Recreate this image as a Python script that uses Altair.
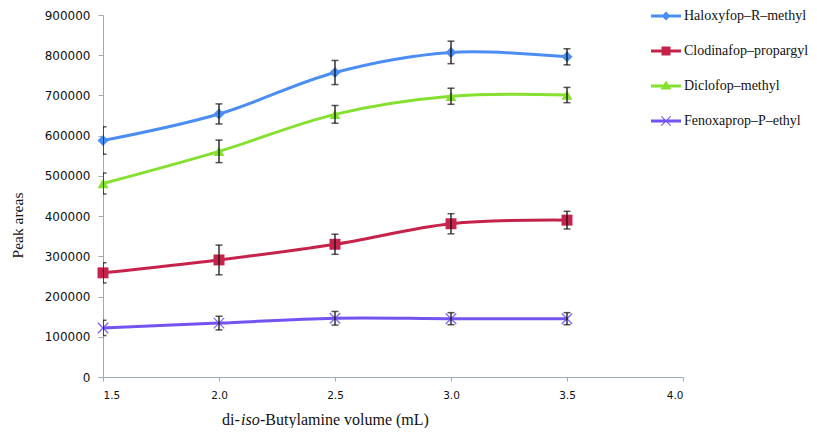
import altair as alt
import pandas as pd

volumes = [1.5, 2.0, 2.5, 3.0, 3.5]
series_names = ["Haloxyfop–R–methyl", "Clodinafop–propargyl", "Diclofop–methyl", "Fenoxaprop–P–ethyl"]
series_colors = ["#4b8df0", "#c5234b", "#86e030", "#7552f2"]

haloxyfop = [588000, 654000, 757000, 807000, 796000]
haloxyfop_err = [34000, 25000, 30000, 28000, 20000]
clodinafop = [259000, 291000, 330000, 381000, 390000]
clodinafop_err = [25000, 37000, 25000, 25000, 22000]
diclofop = [481000, 561000, 653000, 698000, 701000]
diclofop_err = [26000, 28000, 22000, 20000, 19000]
fenoxaprop = [122000, 134000, 146000, 145000, 145000]
fenoxaprop_err = [19000, 17000, 17000, 15000, 15000]

x_ticks = [1.5, 2.0, 2.5, 3.0, 3.5, 4.0]
y_ticks = [0, 100000, 200000, 300000, 400000, 500000, 600000, 700000, 800000, 900000]

rows = []
for name, vals, errs in zip(series_names,
                            [haloxyfop, clodinafop, diclofop, fenoxaprop],
                            [haloxyfop_err, clodinafop_err, diclofop_err, fenoxaprop_err]):
    for v, y, e in zip(volumes, vals, errs):
        rows.append({"series": name, "volume": v, "value": y, "lo": y - e, "hi": y + e})
df = pd.DataFrame(rows)

color_scale = alt.Scale(domain=series_names, range=series_colors)

X = alt.X("volume:Q",
          scale=alt.Scale(domain=[1.5, 4.0], nice=False, zero=False),
          axis=alt.Axis(values=x_ticks, format=".1f", title=None, grid=False,
                        domainColor="#9aabbe", tickColor="#9aabbe", tickSize=4,
                        labelFont="DejaVu Sans", labelFontSize=10.5, labelColor="#111",
                        labelPadding=9))
Y = alt.Y("value:Q",
          scale=alt.Scale(domain=[0, 900000], nice=False, zero=True),
          axis=alt.Axis(values=y_ticks, format="d", title="Peak areas", grid=False,
                        domainColor="#9aabbe", tickColor="#9aabbe", tickSize=5,
                        labelFont="DejaVu Sans", labelFontSize=12, labelColor="#111",
                        labelPadding=8,
                        titleFont="Liberation Serif", titleFontSize=15.5, titleFontWeight="normal",
                        titleColor="#111", titleX=-86, titleY=210, titleAngle=270,
                        titleAlign="center", titleBaseline="middle"))

color_nolegend = alt.Color("series:N", scale=color_scale, legend=None)

lines = alt.Chart(df).mark_line(strokeWidth=3, interpolate="cardinal").encode(
    x=X, y=Y, color=color_nolegend, detail="series:N")

filled_pts = alt.Chart(df).transform_filter(
    alt.datum.series != series_names[3]
).mark_point(filled=True, opacity=1, size=120).encode(
    x=X, y=Y, color=color_nolegend,
    shape=alt.Shape("series:N",
                    scale=alt.Scale(domain=series_names[:3], range=["diamond", "square", "triangle-up"]),
                    legend=None))

cross_pts = alt.Chart(df).transform_filter(
    alt.datum.series == series_names[3]
).mark_point(filled=False, opacity=0.9, size=110, strokeWidth=1.3,
             shape="M-1,-1L1,1M1,-1L-1,1").encode(
    x=X, y=Y, color=color_nolegend)

err_rule = alt.Chart(df).mark_rule(color="#111", strokeWidth=1.3, clip=True).encode(
    x=X, y=alt.Y("lo:Q"), y2="hi:Q")
cap_lo = alt.Chart(df).mark_tick(color="#111", thickness=1.5, size=7, orient="horizontal", clip=True).encode(
    x=X, y=alt.Y("lo:Q"))
cap_hi = alt.Chart(df).mark_tick(color="#111", thickness=1.5, size=7, orient="horizontal", clip=True).encode(
    x=X, y=alt.Y("hi:Q"))

line_bar = "M-1,-0.1L1,-0.1L1,0.1L-1,0.1Z"
legend_paths = [
    line_bar + "M0,-0.3L0.3,0L0,0.3L-0.3,0Z",
    line_bar + "M-0.3,-0.3L0.3,-0.3L0.3,0.3L-0.3,0.3Z",
    line_bar + "M0,-0.36L0.36,0.24L-0.36,0.24Z",
    line_bar + "M-0.34,-0.29L-0.29,-0.34L0.34,0.29L0.29,0.34Z M0.29,-0.34L0.34,-0.29L-0.29,0.34L-0.34,0.29Z",
]

legend_layer = alt.Chart(df).transform_filter("false").mark_point(filled=True, opacity=1).encode(
    color=alt.Color("series:N", scale=color_scale, title=None,
                    legend=alt.Legend(orient="none", legendX=548, legendY=-14, title=None,
                                      symbolSize=900, symbolStrokeWidth=0, rowPadding=13,
                                      labelOffset=3, labelFont="Liberation Serif", labelFontSize=14,
                                      labelColor="#111", labelLimit=300, padding=0)),
    shape=alt.Shape("series:N", scale=alt.Scale(domain=series_names, range=legend_paths), title=None))

title_df = pd.DataFrame({"t": [0]})
t1 = alt.Chart(title_df).mark_text(font="Liberation Serif", fontSize=16, align="left",
                                   baseline="middle", color="#111").encode(
    x=alt.value(119), y=alt.value(405), text=alt.value("di-"))
t2 = alt.Chart(title_df).mark_text(font="Liberation Serif", fontSize=16, fontStyle="italic", align="left",
                                   baseline="middle", color="#111").encode(
    x=alt.value(138), y=alt.value(405), text=alt.value("iso"))
t3 = alt.Chart(title_df).mark_text(font="Liberation Serif", fontSize=16, align="left",
                                   baseline="middle", color="#111").encode(
    x=alt.value(157), y=alt.value(405), text=alt.value("-Butylamine volume (mL)"))

chart = alt.layer(
    lines, filled_pts, cross_pts, err_rule, cap_lo, cap_hi, legend_layer, t1, t2, t3
).resolve_scale(
    color="independent", shape="independent"
).properties(
    width=580, height=362,
    autosize=alt.AutoSizeParams(type="none"),
    padding={"left": 95, "top": 7, "right": 126, "bottom": 51},
    background="white",
).configure_view(stroke=None)

chart.save("out.html", embed_options={"renderer": "svg", "actions": False})
